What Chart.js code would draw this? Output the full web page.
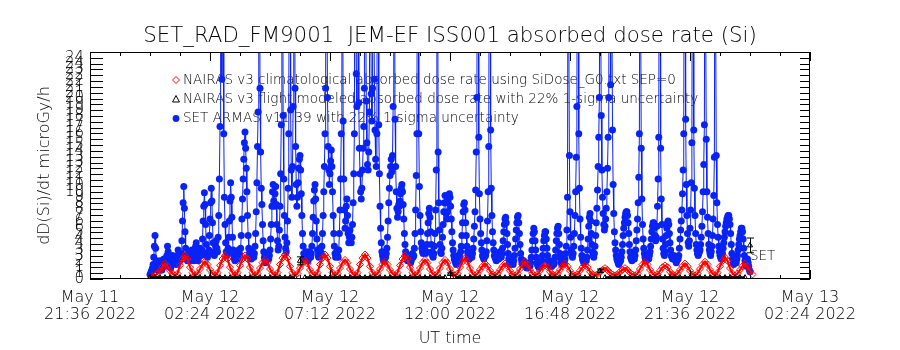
<!DOCTYPE html>
<html>
<head>
<meta charset="utf-8">
<script src="https://cdn.jsdelivr.net/npm/chart.js@4.4.0/dist/chart.umd.min.js"></script>
<style>
  html, body { margin: 0; padding: 0; background: #fff; }
</style>
</head>
<body>
<canvas id="c" width="900" height="350"></canvas>
<script>
const FONT = "'DejaVu Sans', sans-serif";

// x axis: hours since 2022-05-11 21:36 UT
const xTickHours = [0, 4.8, 9.6, 14.4, 19.2, 24.0, 28.8];
const xTickLabels = [
  ['May 11', '21:36 2022'], ['May 12', '02:24 2022'], ['May 12', '07:12 2022'],
  ['May 12', '12:00 2022'], ['May 12', '16:48 2022'], ['May 12', '21:36 2022'],
  ['May 13', '02:24 2022']
];
const xMinorStep = 1.2;
const yMax = 25;
const yTickCount = 39;   // IDL crams 39 ticks in -> labels pile up like the original

// SET ARMAS v11.39, 1.5 min samples, two lines = 1 hour (45 = off scale, SAA)
const setStart = 2.4, setStep = 0.025;
const setValues = [
  0.5, 0.6, 0.8, 1.0, 1.2, 1.6, 2.4, 3.6, 4.8, 3.4, 2.0, 1.4, 1.2, 1.0, 1.2, 1.6, 2.0, 1.6, 1.2, 1.0,
  1.3, 1.8, 2.2, 1.8, 1.4, 1.6, 2.0, 2.6, 3.6, 3.0, 2.2, 1.6, 1.4, 1.2, 1.5, 2.0, 2.6, 2.2, 1.8, 2.0,
  2.2, 1.8, 1.6, 2.0, 2.6, 3.2, 2.6, 2.2, 2.0, 2.4, 2.8, 4.2, 6.4, 8.4, 10.2, 7.8, 5.2, 3.4, 2.6, 2.2,
  2.0, 2.4, 2.8, 2.4, 2.0, 2.2, 2.8, 3.2, 2.6, 2.2, 2.0, 2.4, 3.0, 3.6, 4.0, 3.0, 2.4, 2.0, 2.4, 3.0,
  3.4, 2.8, 2.6, 3.2, 4.4, 6.4, 8.0, 9.5, 8.2, 6.0, 3.8, 2.8, 2.4, 2.6, 3.2, 4.8, 6.6, 8.4, 10.0, 8.6,
  6.2, 4.0, 3.0, 2.6, 2.8, 3.6, 4.2, 3.4, 3.0, 4.6, 7.0, 11.0, 16.8, 45, 45, 22.0, 45, 45, 16.0, 9.0,
  6.0, 4.0, 3.0, 2.6, 2.8, 3.4, 4.6, 6.4, 8.6, 10.6, 9.0, 6.8, 4.6, 3.2, 2.6, 2.2, 2.0, 2.4, 2.8, 2.4,
  2.2, 2.6, 3.2, 2.8, 2.6, 3.4, 4.8, 6.6, 8.8, 11.0, 13.2, 15.0, 16.2, 14.4, 12.2, 9.6, 7.0, 4.8, 3.4, 2.8,
  2.6, 2.4, 2.2, 2.6, 3.0, 2.6, 2.4, 2.8, 3.6, 5.0, 7.4, 10.6, 14.6, 18.4, 45, 45, 21.0, 14.0, 10.0, 8.2,
  6.0, 4.2, 3.0, 2.4, 2.0, 1.8, 2.0, 2.4, 2.8, 2.4, 2.2, 2.6, 3.2, 4.4, 6.0, 8.0, 9.6, 10.4, 8.6, 8.0,
  9.4, 10.2, 8.2, 6.0, 4.2, 3.2, 3.6, 5.4, 8.0, 11.6, 17.0, 45, 45, 18.0, 11.0, 7.0, 4.6, 3.4, 3.0, 4.0,
  6.4, 10.0, 16.0, 45, 45, 18.6, 12.0, 9.0, 12.4, 19.0, 45, 45, 21.0, 14.6, 10.4, 8.0, 9.0, 10.6, 12.2, 13.2,
  13.6, 12.0, 9.4, 7.0, 5.0, 3.6, 2.8, 2.4, 2.2, 2.6, 3.0, 2.6, 2.2, 2.0, 2.4, 3.0, 2.6, 2.4, 2.8, 3.6,
  5.0, 6.8, 8.6, 9.8, 10.4, 8.8, 6.4, 4.4, 3.2, 2.6, 2.4, 2.8, 3.4, 3.0, 2.8, 3.6, 5.0, 7.0, 9.6, 12.4,
  16.0, 21.0, 45, 45, 20.0, 14.6, 12.0, 10.4, 11.6, 13.0, 14.2, 12.4, 9.6, 7.0, 5.0, 3.6, 2.8, 2.4, 2.6, 3.0,
  2.6, 2.4, 3.2, 5.0, 7.6, 11.0, 16.0, 45, 45, 17.4, 11.0, 7.6, 5.6, 6.4, 8.0, 8.8, 7.0, 5.0, 4.0, 4.6,
  5.4, 4.6, 4.0, 4.6, 6.0, 8.4, 11.6, 16.0, 45, 45, 22.6, 19.0, 45, 45, 19.4, 14.4, 11.6, 9.6, 8.8, 10.0,
  12.0, 14.4, 16.8, 21.0, 45, 45, 19.6, 15.0, 12.6, 12.0, 14.0, 18.4, 45, 45, 20.4, 17.4, 21.0, 45, 45, 22.0,
  16.4, 13.2, 12.4, 16.0, 45, 45, 17.0, 11.6, 8.0, 5.6, 4.0, 3.0, 2.6, 2.2, 2.0, 2.2, 2.6, 2.4, 2.8, 3.4,
  4.6, 6.4, 8.4, 10.0, 11.4, 12.4, 13.2, 11.8, 13.6, 19.0, 45, 45, 17.6, 12.4, 9.6, 7.8, 6.8, 7.4, 8.2, 8.0,
  8.6, 9.4, 10.0, 10.4, 9.6, 8.2, 6.6, 5.0, 3.8, 3.0, 2.6, 2.2, 2.0, 2.2, 2.6, 2.4, 2.0, 1.8, 2.0, 2.4,
  2.8, 2.4, 2.6, 3.4, 5.0, 7.6, 11.4, 16.0, 45, 45, 16.0, 10.2, 7.0, 5.2, 4.0, 3.4, 3.0, 2.8, 3.2, 3.6,
  3.2, 2.8, 3.0, 3.8, 5.0, 6.2, 7.2, 7.8, 6.8, 5.2, 3.8, 3.0, 2.6, 2.4, 2.8, 3.6, 5.0, 7.6, 12.0, 45,
  45, 14.0, 8.4, 5.4, 3.8, 3.0, 2.8, 3.4, 4.6, 6.0, 7.4, 8.4, 9.2, 8.4, 7.2, 6.6, 7.4, 8.4, 9.0, 9.4,
  9.0, 8.0, 6.6, 5.2, 4.0, 3.2, 2.6, 2.2, 2.0, 1.8, 1.6, 1.8, 2.2, 2.6, 2.2, 2.0, 2.4, 3.0, 3.6, 4.8,
  6.2, 7.4, 8.2, 8.4, 7.6, 6.2, 4.8, 3.6, 3.0, 2.6, 2.4, 2.2, 2.4, 2.8, 2.6, 2.4, 2.8, 3.4, 4.4, 5.8,
  7.4, 9.8, 14.0, 20.0, 45, 45, 15.6, 9.4, 6.6, 5.0, 4.0, 3.2, 2.6, 2.4, 2.2, 2.4, 2.8, 2.6, 3.0, 4.2,
  6.4, 9.6, 14.6, 45, 45, 16.4, 10.0, 7.0, 5.2, 4.0, 3.2, 2.6, 2.4, 2.2, 2.0, 2.2, 2.6, 2.4, 2.2, 2.6,
  3.0, 2.6, 2.4, 2.8, 3.4, 4.2, 5.2, 6.0, 6.6, 6.8, 6.2, 5.0, 3.8, 2.8, 2.2, 1.8, 1.6, 1.8, 2.2, 2.0,
  1.8, 1.6, 2.0, 2.6, 3.4, 4.4, 5.4, 6.2, 6.8, 7.0, 6.2, 5.0, 3.8, 2.8, 2.2, 1.8, 1.6, 1.8, 2.0, 1.8,
  1.6, 1.4, 1.3, 1.2, 1.3, 1.5, 1.8, 1.6, 1.4, 1.8, 2.4, 3.2, 4.2, 5.0, 5.6, 5.2, 4.2, 3.2, 2.4, 1.8,
  1.6, 1.4, 1.3, 1.4, 1.6, 1.4, 1.6, 2.0, 2.6, 3.4, 4.2, 4.8, 5.2, 5.2, 4.4, 3.4, 2.6, 2.0, 1.8, 2.0,
  1.8, 1.6, 1.4, 1.4, 1.6, 1.8, 1.6, 1.8, 2.4, 3.2, 4.2, 5.0, 5.6, 5.8, 5.0, 3.8, 2.8, 2.2, 1.8, 1.6,
  1.8, 2.2, 2.0, 1.8, 2.2, 2.8, 3.6, 5.4, 9.0, 45, 45, 13.6, 7.4, 4.6, 3.2, 2.6, 2.4, 2.8, 3.6, 5.0,
  7.0, 9.6, 13.4, 19.0, 45, 45, 16.0, 10.0, 6.6, 4.6, 3.4, 2.6, 2.2, 2.0, 1.8, 2.0, 2.4, 2.2, 2.0, 2.4,
  3.2, 4.4, 5.8, 6.8, 7.2, 6.4, 5.0, 3.8, 3.0, 2.6, 2.4, 2.8, 3.6, 4.8, 6.2, 7.8, 9.8, 12.4, 15.6, 20.0,
  45, 45, 18.0, 12.0, 9.0, 7.2, 6.0, 5.4, 5.8, 6.6, 7.8, 9.6, 12.2, 15.6, 20.0, 45, 45, 21.4, 45, 45,
  16.4, 10.4, 7.2, 5.2, 4.0, 3.2, 2.6, 2.2, 2.0, 1.8, 1.6, 1.8, 2.2, 2.0, 2.4, 3.0, 3.8, 4.8, 5.6, 6.2,
  6.8, 7.2, 7.4, 7.4, 7.0, 6.2, 5.0, 3.8, 3.0, 2.4, 2.2, 2.0, 2.2, 2.6, 2.4, 2.2, 2.6, 3.2, 4.2, 5.4,
  6.6, 8.4, 11.2, 16.0, 45, 45, 14.4, 8.8, 6.0, 4.4, 3.4, 2.8, 2.4, 2.2, 2.0, 2.2, 2.6, 2.4, 2.2, 2.6,
  3.0, 3.6, 4.4, 5.2, 5.8, 6.2, 6.2, 5.6, 4.8, 4.2, 4.6, 5.8, 8.0, 11.0, 15.6, 45, 45, 14.4, 8.8, 6.0,
  4.4, 3.4, 2.8, 2.6, 3.0, 3.8, 4.8, 5.6, 6.2, 6.4, 6.0, 5.0, 4.0, 3.2, 2.6, 2.4, 2.2, 2.4, 2.6, 2.4,
  2.2, 2.0, 1.8, 2.0, 2.4, 2.2, 2.6, 3.4, 4.4, 5.4, 6.4, 7.6, 9.4, 12.0, 16.0, 45, 45, 17.6, 10.4, 7.0,
  5.0, 4.0, 3.6, 4.2, 5.6, 7.6, 10.6, 15.0, 45, 45, 16.4, 10.0, 7.0, 5.0, 3.8, 3.2, 2.8, 2.6, 2.8, 3.0,
  3.2, 3.8, 4.6, 5.8, 7.4, 9.6, 12.6, 17.0, 45, 45, 15.4, 9.6, 6.8, 5.0, 3.8, 3.2, 2.8, 2.6, 3.0, 3.6,
  4.8, 6.6, 9.2, 13.4, 45, 45, 13.6, 8.4, 6.0, 4.6, 3.6, 3.0, 2.6, 2.4, 2.2, 2.4, 2.8, 3.4, 4.0, 4.6,
  5.2, 5.8, 6.2, 6.6, 6.8, 7.0, 7.0, 6.6, 6.0, 5.0, 3.8, 2.8, 2.2, 1.8, 1.6, 1.8, 2.2, 2.0, 1.8, 2.2,
  2.6, 3.2, 3.8, 4.4, 4.8, 5.2, 5.6, 5.6, 5.2, 4.4, 3.4, 2.6, 2.0, 1.6, 1.4, 1.8, 2.2, 1.8, 1.4, 1.0, 0.8
];

// NAIRAS v3 climatological, 6 min samples
const climStart = 2.5, climStep = 0.1;
const climValues = [
  0.3, 0.4, 0.6, 0.9, 1.3,
  1.7, 1.4, 0.9, 0.6, 0.4, 0.6, 1.5, 2.2,
  2.6, 2.2, 1.3, 0.7, 0.4, 0.6, 1.1, 1.6,
  1.9, 1.6, 1.0, 0.6, 0.4, 0.7, 1.5, 2.2,
  2.6, 2.2, 1.3, 0.7, 0.4, 0.7, 1.5, 2.2,
  2.6, 2.2, 1.3, 0.7, 0.4, 0.6, 1.2, 1.8,
  2.1, 1.8, 1.1, 0.6, 0.4, 0.7, 1.6, 2.3,
  2.7, 2.3, 1.4, 0.7, 0.4, 0.6, 1.2, 1.7,
  2.0, 1.7, 1.0, 0.6, 0.4, 0.7, 1.6, 2.3,
  2.7, 2.3, 1.4, 0.7, 0.4, 0.6, 1.2, 1.8,
  2.1, 1.8, 1.1, 0.6, 0.4, 0.7, 1.6, 2.3,
  2.7, 2.3, 1.4, 0.7, 0.4, 0.6, 1.1, 1.6,
  1.9, 1.6, 1.0, 0.6, 0.4, 0.7, 1.5, 2.2,
  2.6, 2.2, 1.3, 0.7, 0.4, 0.6, 1.2, 1.8,
  2.1, 1.8, 1.1, 0.6, 0.4, 0.6, 1.2, 1.8,
  2.1, 1.8, 1.1, 0.6, 0.4, 0.6, 1.3, 1.9,
  2.3, 1.9, 1.2, 0.6, 0.4, 0.6, 1.0, 1.4,
  1.7, 1.4, 0.9, 0.5, 0.4, 0.6, 1.0, 1.4,
  1.7, 1.4, 0.9, 0.5, 0.4, 0.6, 1.1, 1.6,
  1.9, 1.6, 1.0, 0.6, 0.4, 0.5, 0.9, 1.3,
  1.5, 1.3, 0.8, 0.5, 0.4, 0.6, 1.0, 1.4,
  1.7, 1.4, 0.9, 0.5, 0.4, 0.5, 0.9, 1.3,
  1.5, 1.3, 0.8, 0.5, 0.4, 0.5, 0.8, 1.0,
  1.2, 1.0, 0.7, 0.5, 0.4, 0.5, 0.8, 1.0,
  1.2, 1.0, 0.7, 0.5, 0.4, 0.6, 1.1, 1.6,
  1.9, 1.6, 1.0, 0.6, 0.4, 0.5, 0.9, 1.3,
  1.5, 1.3, 0.8, 0.5, 0.4, 0.6, 1.0, 1.4,
  1.7, 1.4, 0.9, 0.5, 0.4, 0.6, 1.1, 1.6,
  1.9, 1.6, 1.0, 0.6, 0.4, 0.7, 1.4, 2.0,
  2.4, 2.0, 1.2, 0.6, 0.4, 0.6, 1.0, 1.4,
  1.7, 1.4, 0.9, 0.5
];

// NAIRAS v3 flight modeled, 12 min samples, error bars on a few of them
const flightStart = 2.4, flightStep = 0.2;
const flightValues = [
  0.15, 0.15, 0.14, 0.15, 0.16, 0.15, 0.14, 0.15, 0.15, 0.16,
  0.15, 0.14, 0.15, 0.15, 0.16, 0.15, 0.15, 0.14, 0.15, 0.15,
  0.16, 0.15, 0.14, 0.15, 0.15, 0.16, 0.15, 0.14, 0.15, 0.15,
  2.0,  0.15, 0.14, 0.15, 0.16, 0.15, 0.14, 0.15, 0.15, 0.16,
  0.15, 0.14, 0.15, 0.15, 0.16, 0.15, 0.15, 0.14, 0.15, 0.15,
  0.16, 0.15, 0.14, 0.15, 0.15, 0.16, 0.15, 0.14, 0.15, 0.15,
  0.55, 0.15, 0.14, 0.15, 0.16, 0.15, 0.14, 0.15, 0.15, 0.16,
  0.15, 0.14, 0.15, 0.15, 0.16, 0.15, 0.15, 0.14, 0.15, 0.15,
  0.16, 0.15, 0.14, 0.15, 0.15, 0.16, 0.15, 0.14, 0.15, 0.15,
  0.9,  0.15, 0.14, 0.15, 0.16, 0.15, 0.14, 0.15, 0.15, 0.16,
  0.15, 0.14, 0.15, 0.15, 0.16, 0.15, 0.15, 0.14, 0.15, 0.15,
  0.16, 0.15, 0.14, 0.15, 0.15, 0.16, 0.15, 0.14, 0.15, 0.15,
  3.7
];
const flightErrIdx = [30, 60, 90, 120];
const sigma = 0.22;
const setTag = { x: 26.4, y: 2.45, text: 'SET' };

const labels = [
  'NAIRAS v3 climatological absorbed dose rate using SiDose_G0.txt SEP=0',
  'NAIRAS v3 flight modeled absorbed dose rate with 22% 1-sigma uncertainty',
  'SET ARMAS v11.39 with 22% 1-sigma uncertainty'
];
const BLUE = 'rgb(10,35,245)';
const RED = '#ff0000';

const toXY = (start, step, vals) => vals.map((v, i) => ({ x: start + i * step, y: v }));

// legend inside the plot, IDL style box with inward ticks, error bars
const idlPlugin = {
  id: 'idl',
  beforeDatasetsDraw(chart) {
    const ctx = chart.ctx, a = chart.chartArea;
    const sx = a.left + 86, tx = a.left + 93;
    const rows = [a.top + 28, a.top + 47, a.top + 66.5];
    ctx.save();
    ctx.font = '200 13.5px ' + FONT;
    ctx.fillStyle = '#000';
    ctx.textBaseline = 'middle';
    labels.forEach((t, i) => ctx.fillText(t, tx, rows[i]));
    ctx.lineWidth = 1;
    ctx.strokeStyle = RED;
    ctx.beginPath();
    ctx.moveTo(sx, rows[0] - 3.5); ctx.lineTo(sx + 3.5, rows[0]);
    ctx.lineTo(sx, rows[0] + 3.5); ctx.lineTo(sx - 3.5, rows[0]); ctx.closePath();
    ctx.stroke();
    ctx.strokeStyle = '#000';
    ctx.beginPath();
    ctx.moveTo(sx, rows[1] - 3.5); ctx.lineTo(sx + 3.5, rows[1] + 3);
    ctx.lineTo(sx - 3.5, rows[1] + 3); ctx.closePath();
    ctx.stroke();
    ctx.fillStyle = BLUE;
    ctx.beginPath(); ctx.arc(sx, rows[2], 3.4, 0, Math.PI * 2); ctx.fill();
    ctx.restore();
  },
  afterDatasetsDraw(chart) {
    const ctx = chart.ctx, a = chart.chartArea;
    const xs = chart.scales.x, ys = chart.scales.y;
    ctx.save();
    ctx.strokeStyle = '#000';
    ctx.lineWidth = 1;
    flightErrIdx.forEach(i => {
      const v = flightValues[i];
      const px = Math.round(xs.getPixelForValue(flightStart + i * flightStep)) + 0.5;
      const y1 = ys.getPixelForValue(v * (1 + sigma)), y2 = ys.getPixelForValue(v * (1 - sigma));
      ctx.beginPath();
      ctx.moveTo(px, y1); ctx.lineTo(px, y2);
      ctx.moveTo(px - 3.5, y1); ctx.lineTo(px + 3.5, y1);
      ctx.moveTo(px - 3.5, y2); ctx.lineTo(px + 3.5, y2);
      ctx.stroke();
    });
    ctx.font = '200 13.5px ' + FONT;
    ctx.fillStyle = '#000';
    ctx.textBaseline = 'middle';
    ctx.fillText(setTag.text, xs.getPixelForValue(setTag.x), ys.getPixelForValue(setTag.y));
    ctx.strokeRect(a.left + 0.5, a.top + 0.5, a.right - a.left - 1, a.bottom - a.top - 1);
    ctx.beginPath();
    ys.ticks.forEach(t => {
      const py = Math.round(ys.getPixelForValue(t.value)) + 0.5;
      ctx.moveTo(a.left, py); ctx.lineTo(a.left + 13, py);
      ctx.moveTo(a.right, py); ctx.lineTo(a.right - 10, py);
    });
    const nMinor = Math.round((xTickHours[xTickHours.length - 1] - xTickHours[0]) / xMinorStep);
    for (let k = 0; k <= nMinor; k++) {
      const px = Math.round(xs.getPixelForValue(xTickHours[0] + k * xMinorStep)) + 0.5;
      const len = k % 4 === 0 ? 9 : 4;
      ctx.moveTo(px, a.bottom); ctx.lineTo(px, a.bottom - len);
      ctx.moveTo(px, a.top); ctx.lineTo(px, a.top + len);
    }
    ctx.stroke();
    ctx.restore();
  }
};

// don't join the sparse error-bar points to the baseline
const lowOnly = c => (c.p0.parsed.y > 0.3 || c.p1.parsed.y > 0.3) ? 'rgba(0,0,0,0)' : undefined;

new Chart(document.getElementById('c'), {
  type: 'scatter',
  data: {
    datasets: [
      {
        label: labels[0],
        data: toXY(climStart, climStep, climValues),
        showLine: true,
        borderWidth: 2.2,
        pointStyle: 'rectRot',
        pointRadius: 3.5,
        pointBorderWidth: 1,
        borderColor: RED,
        backgroundColor: 'rgba(255,255,255,0)',
        order: 2
      },
      {
        label: labels[1],
        data: toXY(flightStart, flightStep, flightValues),
        showLine: true,
        borderWidth: 3,
        segment: { borderColor: lowOnly },
        pointStyle: 'triangle',
        pointRadius: 3,
        pointBorderWidth: 1,
        borderColor: '#000',
        backgroundColor: 'rgba(255,255,255,0)',
        order: 1
      },
      {
        label: labels[2],
        data: toXY(setStart, setStep, setValues),
        showLine: true,
        borderColor: BLUE,
        borderWidth: 1,
        pointRadius: 3.5,
        pointBorderWidth: 0,
        pointBackgroundColor: BLUE,
        order: 3
      }
    ]
  },
  options: {
    responsive: false,
    animation: false,
    devicePixelRatio: 1,
    events: [],
    layout: { padding: 0 },
    plugins: {
      legend: { display: false },
      tooltip: { enabled: false },
      title: {
        display: true,
        text: 'SET_RAD_FM9001  JEM-EF ISS001 absorbed dose rate (Si)',
        color: '#000',
        font: { family: FONT, size: 21.3, weight: '200', lineHeight: 1.2 },
        padding: { top: 24, bottom: 2.44 }
      }
    },
    scales: {
      x: {
        type: 'linear',
        min: xTickHours[0],
        max: xTickHours[xTickHours.length - 1],
        afterBuildTicks: s => { s.ticks = xTickHours.map(v => ({ value: v })); },
        afterFit: s => { s.height = 71; },
        grid: { display: false, drawTicks: false },
        border: { display: false },
        ticks: {
          autoSkip: false,
          maxRotation: 0,
          padding: 11,
          color: '#000',
          font: { family: FONT, size: 16, weight: '200', lineHeight: 1.03 },
          callback: (v, i) => xTickLabels[i]
        },
        title: {
          display: true,
          text: 'UT time',
          color: '#000',
          font: { family: FONT, size: 16, weight: '200', lineHeight: 1.2 },
          padding: { top: 0, bottom: 1.5 }
        }
      },
      y: {
        type: 'linear',
        min: 0,
        max: yMax,
        afterBuildTicks: s => {
          const t = [];
          for (let k = 0; k < yTickCount; k++) t.push({ value: yMax * k / yTickCount });
          s.ticks = t;
        },
        afterFit: s => { s.width = 90; },
        grid: { display: false, drawTicks: false },
        border: { display: false },
        ticks: {
          autoSkip: false,
          padding: 6,
          color: '#000',
          font: { family: FONT, size: 15, weight: '200' },
          callback: v => String(Math.round(v))
        },
        title: {
          display: true,
          text: 'dD(Si)/dt microGy/h',
          color: '#000',
          font: { family: FONT, size: 16, weight: '200', lineHeight: 1.2 },
          padding: { top: 35, bottom: 0 }
        }
      },
      // empty right margin so the title centres over the plot like the original
      yRight: {
        type: 'linear',
        position: 'right',
        afterFit: s => { s.width = 90; },
        grid: { display: false, drawTicks: false },
        border: { display: false },
        ticks: { display: false }
      }
    }
  },
  plugins: [idlPlugin]
});
</script>
</body>
</html>
